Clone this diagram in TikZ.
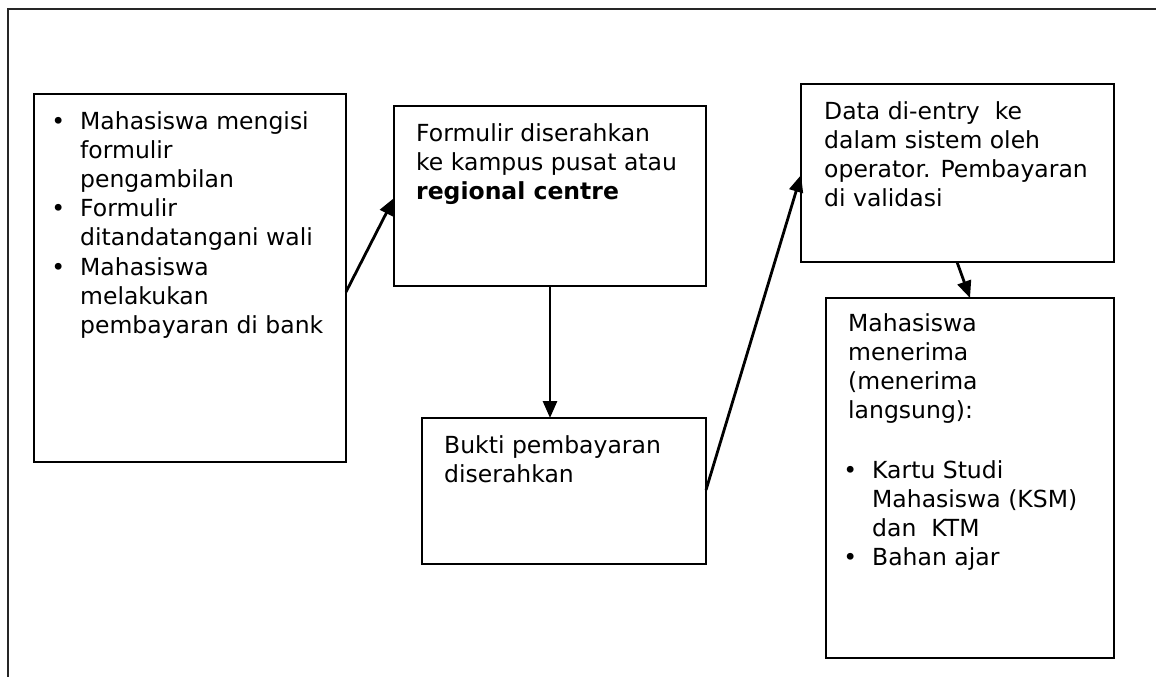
\documentclass[tikz,border=0pt]{standalone}
\usepackage{fontspec}
\setmainfont{DejaVu Sans}
\usetikzlibrary{arrows.meta,calc}
\newcommand\bul{\llap{•\hspace{15pt}}}
\begin{document}
\begin{tikzpicture}[x=1pt,y=-1pt,
  box/.style={draw=black,line width=2.2pt,rectangle,inner sep=0pt,outer sep=0pt,anchor=north west},
  txt/.style={anchor=base west,inner sep=0pt,align=left,font=\fontsize{23.5}{29.2}\selectfont},
  conn/.style={line width=2.8pt,-{Triangle[length=17pt,width=14pt]}},
  frameline/.style={line width=1.8pt,draw=black!85}]
\useasboundingbox (0,0) rectangle (1156,677);
\coordinate (fa) at (8,677);
\coordinate (fb) at (8,9);
\coordinate (fc) at (1156,9);
\draw[frameline] (fa) -- (fb) -- (fc);

\node[box,minimum width=312pt,minimum height=368pt] (b1) at (34,94) {};
\node[box,minimum width=312pt,minimum height=180pt] (b2) at (394,106) {};
\node[box,minimum width=284pt,minimum height=146pt] (b3) at (422,418) {};
\node[box,minimum width=313pt,minimum height=178pt] (b4) at (801,84) {};
\node[box,minimum width=288pt,minimum height=360pt] (b5) at (826,298) {};

% anchors are the baselines of the last lines
\node[txt] (t1) at (80,333.4) {\bul Mahasiswa mengisi\\ formulir\\ pengambilan\\ \bul Formulir\\ ditandatangani wali\\ \bul Mahasiswa\\ melakukan\\ pembayaran di bank};
\node[txt] (t2) at (416,199.4) {Formulir diserahkan\\ ke kampus pusat atau\\ \textbf{regional centre}};
\node[txt] (t3) at (444,482.2) {Bukti pembayaran\\ diserahkan};
\node[txt] (t4) at (824,206.6) {Data di-entry\ \ ke\\ dalam sistem oleh\\ operator. Pembayaran\\ di validasi};
\node[txt] (t5a) at (848,418.6) {Mahasiswa\\ menerima\\ (menerima\\ langsung):};
\node[txt] (t5b) at (872,565.6) {\bul Kartu Studi\\ Mahasiswa (KSM)\\ dan\ \ KTM\\ \bul Bahan ajar};

\draw[conn] ($(b1.north east)+(0,198)$) -- ($(b2.north west)+(0,92)$);
\draw[conn] (b2.south) -- (b2.south |- b3.north);
\draw[conn] ($(b3.north east)+(0,72)$) -- ($(b4.north west)+(0,91)$);
\draw[conn] ($(b4.south west)+(156,0)$) -- ($(b5.north west)+(144,0)$);
\end{tikzpicture}
\end{document}
